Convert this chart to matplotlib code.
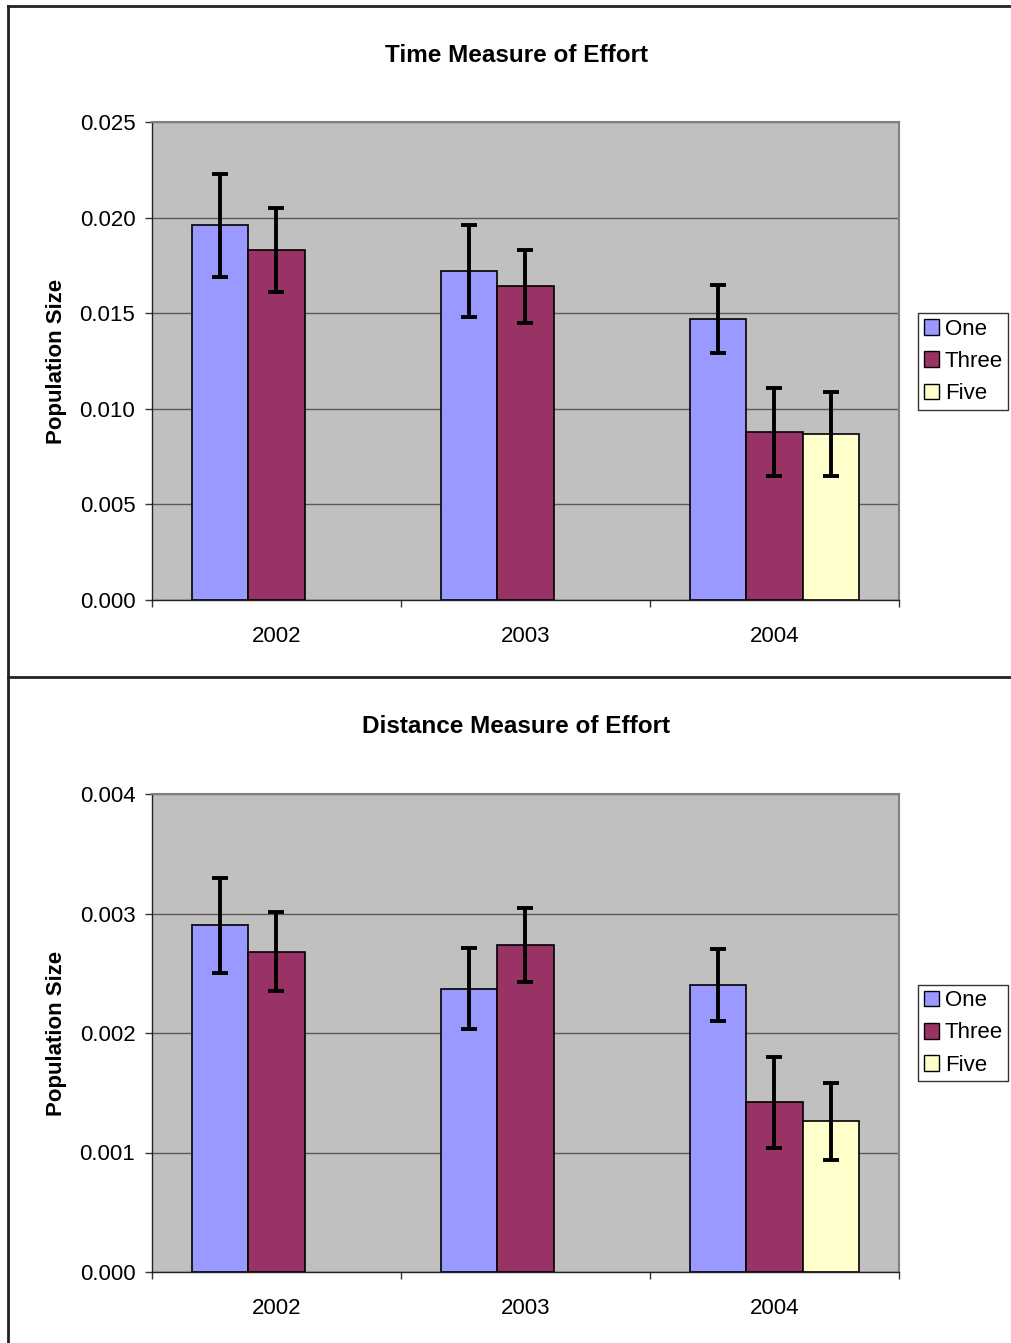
import matplotlib
matplotlib.use("Agg")
import matplotlib.pyplot as plt
import numpy as np
from matplotlib.lines import Line2D
from matplotlib.ticker import FormatStrFormatter

plt.rcParams['font.family'] = ['Liberation Sans', 'DejaVu Sans']

years = ["2002", "2003", "2004"]
series = ["One", "Three", "Five"]
colors = ["#9999FF", "#993366", "#FFFFCC"]

# Time measure of effort
time_vals = {
    "One":   [0.0196, 0.0172, 0.0147],
    "Three": [0.0183, 0.0164, 0.0088],
    "Five":  [np.nan, np.nan, 0.0087],
}
time_err = {
    "One":   [0.0027, 0.0024, 0.0018],
    "Three": [0.0022, 0.0019, 0.0023],
    "Five":  [np.nan, np.nan, 0.0022],
}

# Distance measure of effort
dist_vals = {
    "One":   [0.00290, 0.00237, 0.00240],
    "Three": [0.00268, 0.00274, 0.00142],
    "Five":  [np.nan, np.nan, 0.00126],
}
dist_err = {
    "One":   [0.00040, 0.00034, 0.00030],
    "Three": [0.00033, 0.00031, 0.00038],
    "Five":  [np.nan, np.nan, 0.00032],
}

W, H = 1012, 1343
fig = plt.figure(figsize=(W / 100, H / 100), dpi=100)

def fx(px):
    return px / W

def fy(py):
    return 1 - py / H

FS = 16

def draw_panel(top_px, bot_px, title, title_py, vals, errs, ymax, step, fmt, leg_cy):
    ax = fig.add_axes([fx(152), fy(bot_px), fx(899) - fx(152), fy(top_px) - fy(bot_px)])
    ax.set_facecolor("#C0C0C0")
    x = np.arange(len(years))
    w = 0.225
    for i, s in enumerate(series):
        v = np.array(vals[s], dtype=float)
        e = np.array(errs[s], dtype=float)
        pos = x + (i - 1) * w
        mask = ~np.isnan(v)
        ax.bar(pos[mask], v[mask], width=w, color=colors[i], edgecolor="black",
               linewidth=1.2, zorder=3, label=s)
        ax.errorbar(pos[mask], v[mask], yerr=e[mask], fmt="none", ecolor="black",
                    elinewidth=2.8, capsize=6, capthick=2.8, zorder=4)
    ax.set_xlim(-0.5, 2.5)
    ax.set_ylim(0, ymax)
    yt = np.arange(0, ymax + step / 2, step)
    ax.set_yticks(yt)
    ax.yaxis.set_major_formatter(FormatStrFormatter(fmt))
    ax.yaxis.grid(True, color="#5a5a5a", linewidth=1.0, zorder=1)
    ax.set_axisbelow(True)
    ax.set_xticks(x)
    ax.set_xticklabels(years)
    ax.set_xticks([-0.5, 0.5, 1.5, 2.5], minor=True)
    ax.tick_params(axis="x", which="major", length=0, pad=19, labelsize=FS)
    ax.tick_params(axis="x", which="minor", length=5, width=1, direction="out", color="#333333")
    ax.tick_params(axis="y", length=5, width=1, direction="out", pad=7, labelsize=FS, color="#333333")
    for sp in ["top", "right"]:
        ax.spines[sp].set_color("#808080")
        ax.spines[sp].set_linewidth(1.5)
    for sp in ["left", "bottom"]:
        ax.spines[sp].set_color("#222222")
        ax.spines[sp].set_linewidth(1.0)
    ax.set_ylabel("Population Size", fontsize=FS, fontweight="bold", labelpad=9)
    fig.text(fx(516.5), fy(title_py), title, ha="center", va="center",
             fontsize=17.5, fontweight="bold")
    handles = [plt.Rectangle((0, 0), 1, 1, facecolor=c, edgecolor="black", linewidth=1.0)
               for c in colors]
    leg = fig.legend(handles, series, loc="center left", bbox_to_anchor=(fx(918), fy(leg_cy)),
                     fontsize=FS, frameon=True, fancybox=False, shadow=False,
                     handlelength=0.7, handleheight=0.7, handletextpad=0.25,
                     borderpad=0.25, borderaxespad=0, labelspacing=0.5)
    leg.get_frame().set_edgecolor("black")
    leg.get_frame().set_linewidth(1.0)
    return ax

draw_panel(122, 600, "Time Measure of Effort", 55, time_vals, time_err,
           0.025, 0.005, "%.3f", 361.5)
draw_panel(794, 1272, "Distance Measure of Effort", 727, dist_vals, dist_err,
           0.004, 0.001, "%.3f", 1033)

# panel borders
border_kw = dict(color="#222222", linewidth=2.0, transform=fig.transFigure)
fig.add_artist(Line2D([fx(8), fx(8)], [fy(6), 0], **border_kw))
fig.add_artist(Line2D([fx(8), 1], [fy(6), fy(6)], **border_kw))
fig.add_artist(Line2D([fx(8), 1], [fy(677), fy(677)], **border_kw))

fig.savefig("out.png", dpi=100, facecolor="white")
